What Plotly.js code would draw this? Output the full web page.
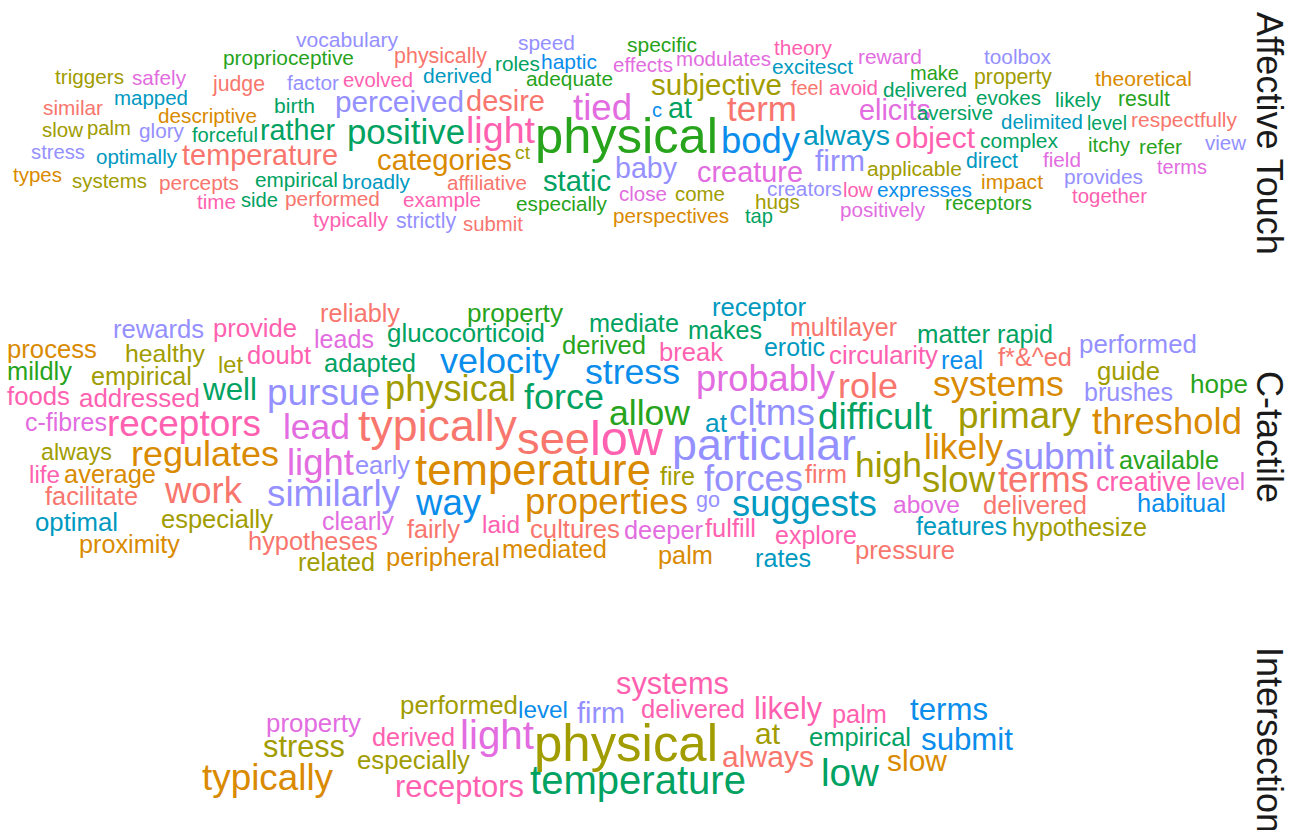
<!DOCTYPE html>
<html><head><meta charset="utf-8">
<script src="https://cdn.plot.ly/plotly-3.0.1.min.js"></script>
<style>html,body{margin:0;padding:0;background:#fff;overflow:hidden;}#chart{width:1296px;height:830px;}</style>
</head><body><div id="chart"></div>
<script>
const palette = {S:'#F8766D',O:'#D98A00',Y:'#A19C00',G:'#27A31C',T:'#00A262',C:'#0099BF',B:'#0A8DEB',L:'#9590FF',M:'#E26CE0',P:'#FF61B0'};

// ---- Affective Touch ----
const affWords = ["vocabulary","proprioceptive","physically","speed","specific","theory","reward","toolbox","triggers","safely","judge","factor","evolved","derived","roles","haptic","effects","modulates","excitesct","adequate","make","property","theoretical","subjective","feel","avoid","delivered","evokes","likely","result","mapped","similar","descriptive","birth","perceived","desire","tied","c","at","term","elicits","aversive","delimited","level","respectfully","slow","palm","glory","forceful","rather","positive","light","physical","body","always","object","complex","itchy","refer","view","stress","optimally","temperature","categories","ct","baby","creature","firm","applicable","direct","field","terms","types","systems","percepts","empirical","broadly","affiliative","static","impact","provides","close","come","creators","low","expresses","together","time","side","performed","example","especially","hugs","receptors","positively","perspectives","tap","typically","strictly","submit"];
const affLeft = [296,223,394,518,627,774,858,984,55,132, 213,287,343,423,495,541,613,676,772,526, 910,974,1095,651,791,829,883,976,1055,1118, 114,43,158,274,335,466,573,652,668,727, 859,917,1001,1087,1131,42,87,139,192,260, 347,466,535,721,803,895,980,1088,1139,1205, 31,96,182,377,515,615,697,815,867,966, 1043,1157,13,72,159,255,342,447,543,981, 1064,619,675,767,843,877,1072,197,241,285, 403,516,755,945,840,613,745,313,396,463];
const affRight = [398,354,487,575,697,832,922,1051,124,186, 265,339,413,492,540,597,673,771,853,613, 959,1052,1192,782,823,878,967,1041,1101,1170, 188,103,257,315,464,545,632,662,692,797, 931,993,1083,1127,1237,83,131,184,258,335, 465,535,718,800,890,975,1058,1130,1182,1246, 85,177,338,512,530,677,803,865,962,1018, 1081,1207,62,147,239,338,410,527,611,1043, 1143,667,725,842,873,972,1147,236,278,380, 481,607,800,1032,925,729,773,388,456,523];
const affY = [39,58,55,43,44,48,57,57,77,78, 83,83,80,75,64,61,65,59,67,79, 73,76,78,84,88,88,90,98,100,98, 98,108,116,105,101,101,107,110,108,108, 110,113,122,123,120,130,128,131,135,130, 132,130,135,140,135,137,141,145,147,143, 152,157,155,160,152,168,172,160,168,160, 160,167,175,181,183,180,182,183,181,181, 177,194,194,189,190,190,196,202,200,199, 200,204,202,203,210,216,216,219,220,224];
const affColors = "LGSLGPMLYM"+"SLPCTBMMCG"+"GYOYSPTTTG"+"CSOTLSMBTS"+"MTCTSYYLTT"+"TPGBCPTGGL"+"LCSOYLMLYC"+"MMOYSTCSTO"+"LMYLPBPPTS"+"PGYGMOTPLS";

// ---- C-tactile ----
const ctWords = ["reliably","property","receptor","rewards","provide","leads","glucocorticoid","mediate","makes","multilayer","matter","rapid","process","healthy","let","doubt","adapted","velocity","derived","break","erotic","circularity","real","f*&^ed","performed","mildly","empirical","stress","probably","role","systems","guide","hope","brushes","well","pursue","physical","force","foods","addressed","allow","c-fibres","receptors","lead","typically","see","low","at","cltms","difficult","primary","threshold","particular","always","regulates","light","early","temperature","likely","submit","available","high","slow","terms","creative","level","fire","forces","firm","life","average","work","similarly","way","properties","go","suggests","above","delivered","habitual","facilitate","optimal","especially","clearly","fairly","laid","cultures","deeper","fulfill","explore","features","hypothesize","proximity","hypotheses","mediated","peripheral","related","palm","rates","pressure"];
const ctLeft = [320,467,712,113,213,314,387,589,688,790, 917,997,7,125,218,247,324,440,562,659, 764,829,941,998,1079,7,91,585,696,838, 933,1097,1190,1084,203,267,385,524,7,79, 609,25,107,283,358,517,590,705,729,818, 958,1092,672,41,131,287,355,415,924,1005, 1119,855,922,998,1096,1196,660,704,805,29, 64,165,267,416,525,696,732,893,983,1137, 45,35,161,322,407,482,530,624,705,775, 916,1012,79,248,502,386,298,658,755,855];
const ctRight = [400,563,806,204,297,374,545,679,762,897, 990,1053,97,205,243,311,416,560,646,723, 825,938,983,1072,1197,72,192,680,835,898, 1064,1160,1248,1173,257,380,516,604,70,200, 690,107,261,350,517,590,663,727,815,932, 1081,1242,856,112,279,354,410,651,1003,1114, 1219,922,995,1089,1191,1245,695,803,847,60, 156,242,400,481,688,720,877,960,1087,1226, 138,118,273,394,460,520,620,703,756,857, 1007,1147,180,378,607,500,375,713,811,955];
const ctY = [313,313,307,329,328,339,333,323,330,327, 334,334,349,353,365,355,363,360,345,352, 347,355,360,357,344,371,376,371,378,385, 383,371,384,392,389,392,388,396,396,398, 412,422,423,426,425,438,438,423,412,416, 415,421,444,452,453,462,465,469,446,456, 460,464,479,479,481,481,476,478,474,474, 474,490,493,502,501,499,503,504,505,503, 496,522,519,521,529,524,529,530,528,535, 526,527,544,541,549,557,562,555,558,550];
const ctColors = "SGCLPMTTTS"+"TTOYYPTBGP"+"CPBSLGYBMS"+"OYGLTLYTPP"+"GMPMSSPCLT"+"YOLYOMLOOL"+"GYYSPMYLSP"+"OSLBOLCMSB"+"SCYMSPSMPP"+"CYOSOOYOCS";

// ---- Intersection ----
const inWords = ["systems","performed","level","firm","delivered","likely","palm","terms","property","light","physical","at","empirical","submit","stress","derived","especially","always","slow","typically","receptors","temperature","low"];
const inLeft = [616,400,518,577,641,754,832,910,266,460,534,755,809,921,263,372,357,722,887,202,395,530,821];
const inRight = [729,518,568,625,745,822,887,988,361,534,718,780,911,1013,345,455,470,814,947,333,524,746,879];
const inY = [683,705,709,713,709,708,714,709,723,735,743,733,737,739,746,737,760,756,760,777,786,780,772];
const inColors = "PYBLPPPBMMYYTBYPYSOOPTT";

const facetLabels = ["Affective Touch","C-tactile","Intersection"];
const facetLabelY = [133,437,740];

const FONT = "'Liberation Sans', Arial, Helvetica, sans-serif";
const ctx = document.createElement('canvas').getContext('2d');
ctx.font = "100px " + FONT;
function fitSize(word, w){
  const m = ctx.measureText(word).width;
  return m > 0 ? 100 * w / m : w / (word.length * 0.5);
}
function facetTrace(words, left, right, y, cols){
  const xs = [], ys = [], sizes = [], colors = [];
  words.forEach((w, i) => {
    const fs = fitSize(w, right[i] - left[i]);
    sizes.push(fs);
    xs.push((left[i] + right[i]) / 2);
    ys.push(y[i] + 0.108 * fs);
    colors.push(palette[cols[i]]);
  });
  return {type:'scatter', mode:'text', x:xs, y:ys, text:words, textposition:'middle center',
    textfont:{family:FONT, size:sizes, color:colors}, hoverinfo:'text', showlegend:false, cliponaxis:false};
}

const data = [
  facetTrace(affWords, affLeft, affRight, affY, affColors),
  facetTrace(ctWords, ctLeft, ctRight, ctY, ctColors),
  facetTrace(inWords, inLeft, inRight, inY, inColors)
];

const layout = {
  width:1296, height:830, margin:{l:0,r:0,t:0,b:0},
  paper_bgcolor:'#ffffff', plot_bgcolor:'#ffffff', showlegend:false,
  xaxis:{range:[0,1296], visible:false, fixedrange:true},
  yaxis:{range:[830,0], visible:false, fixedrange:true},
  annotations: facetLabels.map((t, i) => ({
    x:1270, y:facetLabelY[i], xref:'x', yref:'y', text:t, showarrow:false, textangle:90,
    font:{family:FONT, size:36, color:'#1a1a1a'}
  }))
};

Plotly.newPlot('chart', data, layout, {staticPlot:true, displayModeBar:false});
</script>
</body></html>
